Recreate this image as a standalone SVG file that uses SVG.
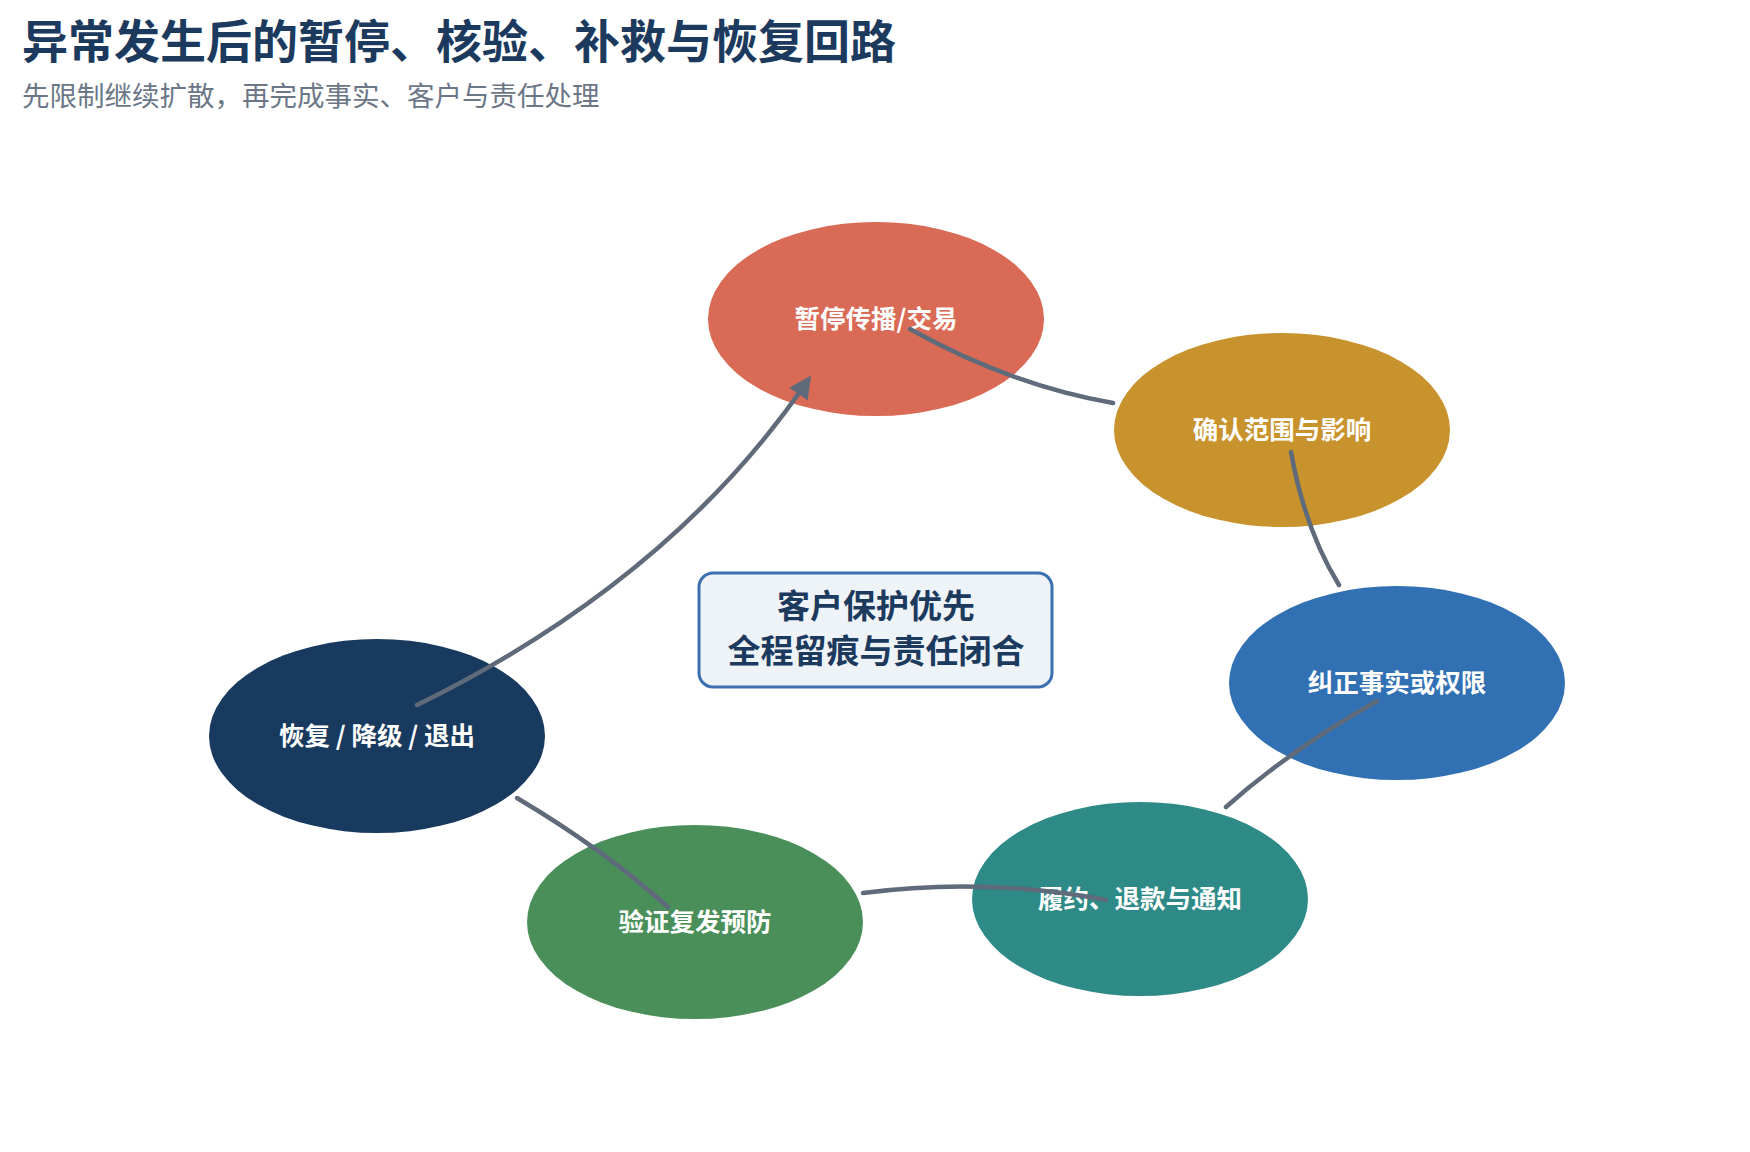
<svg xmlns="http://www.w3.org/2000/svg" width="1750" height="1152" viewBox="0 0 1750 1152">
<style>
.t{font-family:"Noto Sans CJK SC","Liberation Sans",sans-serif}
.lbl{font-family:"Noto Sans CJK SC","Liberation Sans",sans-serif;font-size:25.5px;font-weight:700;fill:#fff;text-anchor:middle}
.c{fill:none;stroke:#5f6b7a;stroke-width:4.5;stroke-linecap:round}
</style>
<defs><marker id="ah" viewBox="0 0 10 10" refX="6" refY="5" markerWidth="5" markerHeight="5" orient="auto"><path d="M0,0L10,5L0,10z" fill="#5f6b7a"/></marker></defs>
<rect width="1750" height="1152" fill="#fff"/>
<text class="t" x="22" y="58" font-size="46" font-weight="700" fill="#1c3a5e">异常发生后的暂停、核验、补救与恢复回路</text>
<text class="t" x="22" y="106" font-size="27.5" fill="#6b7787">先限制继续扩散，再完成事实、客户与责任处理</text>
<g id="n1"><ellipse cx="876" cy="319" rx="168" ry="97" fill="#d96a55"/><text class="lbl" x="876" y="328">暂停传播/交易</text></g>
<g id="n2"><ellipse cx="1282" cy="430" rx="168" ry="97" fill="#c8922d"/><text class="lbl" x="1282" y="439">确认范围与影响</text></g>
<g id="n3"><ellipse cx="1397" cy="683" rx="168" ry="97" fill="#3170b3"/><text class="lbl" x="1397" y="692">纠正事实或权限</text></g>
<g id="n4"><ellipse cx="1140" cy="899" rx="168" ry="97" fill="#2e8a87"/><text class="lbl" x="1140" y="908">履约、退款与通知</text></g>
<g id="n5"><ellipse cx="695" cy="922" rx="168" ry="97" fill="#4a8f5a"/><text class="lbl" x="695" y="931">验证复发预防</text></g>
<g id="n6"><ellipse cx="377" cy="736" rx="168" ry="97" fill="#183a5e"/><text class="lbl" x="377" y="745">恢复 / 降级 / 退出</text></g>
<g id="center"><rect x="699" y="573" width="353" height="114" rx="14" fill="#eef3f8" stroke="#3a70b0" stroke-width="3"/>
<text class="t" x="876" y="618" font-size="33" font-weight="700" fill="#1c3a5e" text-anchor="middle">客户保护优先</text>
<text class="t" x="876" y="663" font-size="33" font-weight="700" fill="#1c3a5e" text-anchor="middle">全程留痕与责任闭合</text></g>
<g id="connectors">
<path class="c" d="M1113,403 Q1010,385 910,329"/>
<path class="c" d="M1291,452 Q1305,530 1339,585"/>
<path class="c" d="M1377,701 Q1290,750 1226,807"/>
<path class="c" d="M1106,900 Q983,877 863,893"/>
<path class="c" d="M668,907 Q603,849 517,798"/>
<path class="c" d="M417,705 Q670,581 806,383" marker-end="url(#ah)"/>
</g>
</svg>
